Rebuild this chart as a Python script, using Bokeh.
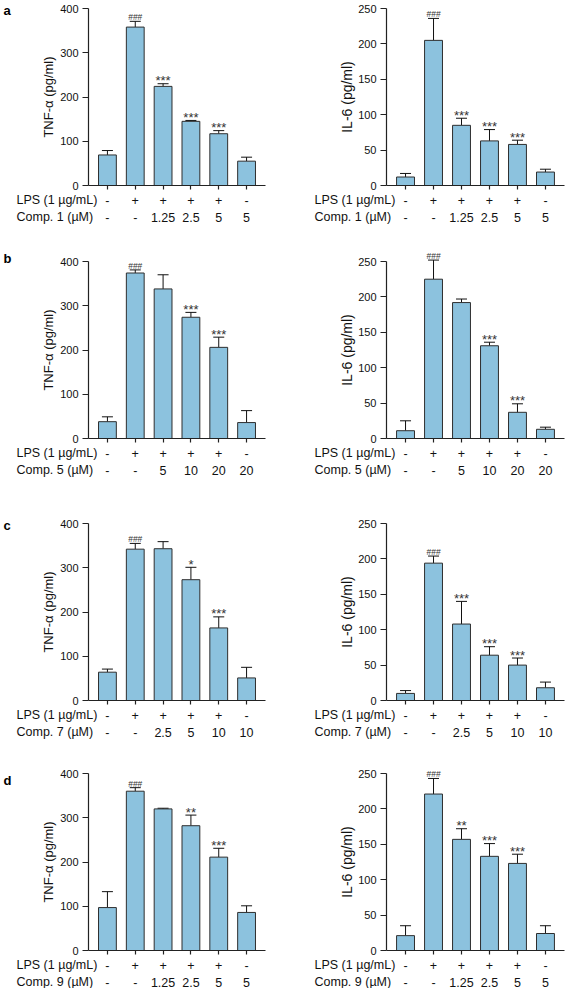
from bokeh.plotting import figure
from bokeh.models import Range1d, FixedTicker, ColumnDataSource, Whisker, TeeHead
from bokeh.layouts import column, row
from bokeh.embed import file_html
from bokeh.resources import INLINE
from bokeh.core.properties import value

# ---------------- data ----------------
groups = [0, 1, 2, 3, 4, 5]
lps = ["-", "+", "+", "+", "+", "-"]

comp_a_name = "Comp. 1 (µM)"
comp_a = ["-", "-", "1.25", "2.5", "5", "5"]
tnf_a = [69, 358, 224, 145, 117, 55]
tnf_a_sd = [10, 13, 6, 2, 7, 9]
tnf_a_sig = ["", "###", "***", "***", "***", ""]
il6_a = [12, 205, 85, 63, 58, 19]
il6_a_sd = [5, 31, 10, 16, 6, 4]
il6_a_sig = ["", "###", "***", "***", "***", ""]

comp_b_name = "Comp. 5 (µM)"
comp_b = ["-", "-", "5", "10", "20", "20"]
tnf_b = [38, 374, 338, 274, 206, 36]
tnf_b_sd = [11, 7, 32, 11, 23, 27]
tnf_b_sig = ["", "###", "", "***", "***", ""]
il6_b = [11, 225, 192, 131, 37, 13]
il6_b_sd = [14, 27, 5, 5, 12, 3]
il6_b_sig = ["", "###", "", "***", "***", ""]

comp_c_name = "Comp. 7 (µM)"
comp_c = ["-", "-", "2.5", "5", "10", "10"]
tnf_c = [64, 342, 343, 273, 164, 51]
tnf_c_sd = [7, 13, 16, 28, 25, 24]
tnf_c_sig = ["", "###", "", "*", "***", ""]
il6_c = [10, 194, 108, 64, 50, 18]
il6_c_sd = [4, 10, 32, 12, 10, 8]
il6_c_sig = ["", "###", "***", "***", "***", ""]

comp_d_name = "Comp. 9 (µM)"
comp_d = ["-", "-", "1.25", "2.5", "5", "5"]
tnf_d = [97, 360, 320, 282, 211, 86]
tnf_d_sd = [36, 8, 1.5, 24, 20, 15]
tnf_d_sig = ["", "###", "", "**", "***", ""]
il6_d = [21, 221, 157, 133, 123, 24]
il6_d_sd = [14, 22, 15, 18, 13, 11]
il6_d_sig = ["", "###", "**", "***", "***", ""]

tnf_ticks = [0, 100, 200, 300, 400]
il6_ticks = [0, 50, 100, 150, 200, 250]
lps_name = "LPS (1 µg/mL)"

# ---------------- style ----------------
FONT = "Liberation Sans"
BAR_FILL = "#8cc2de"
BAR_LINE = "#2e2e2e"
AX = "#222222"
TXT = "#111111"
XMIN, XMAX = -0.68, 5.68
FRAME_H = 177


def panel(left, vals, sds, sig, ticks, ylabel, comp_name, comp_vals,
          mbt, mbb, letter=None, letter_dy=0):
    ymax = ticks[-1]
    if left:
        mbl, fw, mbr = 88, 177, 18
        lab_size = "13px"
        lab_standoff = 1
    else:
        mbl, fw, mbr = 103, 178, 2
        lab_size = "14px"
        lab_standoff = 0
    W = mbl + fw + mbr
    H = mbt + FRAME_H + mbb
    pxu = fw / (XMAX - XMIN)
    pyu = FRAME_H / ymax
    p = figure(width=W, height=H, output_backend="svg", toolbar_location=None,
               x_range=Range1d(XMIN - mbl / pxu, XMAX + mbr / pxu),
               y_range=Range1d(-mbb / pyu, ymax + mbt / pyu),
               min_border=0, min_border_left=0, min_border_right=0,
               min_border_top=0, min_border_bottom=0,
               background_fill_color="white", border_fill_color="white")
    p.outline_line_color = None
    p.xgrid.visible = False
    p.ygrid.visible = False

    top = [v + s for v, s in zip(vals, sds)]
    src = ColumnDataSource(dict(x=groups, v=vals, top=top))
    p.vbar(x="x", top="v", width=0.64, bottom=0, source=src,
           fill_color=BAR_FILL, line_color=BAR_LINE, line_width=1)
    p.add_layout(Whisker(base="x", lower="v", upper="top", source=src,
                         dimension="height", line_color="#111111", line_width=1,
                         lower_head=None,
                         upper_head=TeeHead(size=11, line_color="#111111", line_width=1)))

    st = [(g, t, s) for g, t, s in zip(groups, top, sig) if "*" in s]
    stars = ColumnDataSource(dict(x=[a for a, b, c in st], y=[b for a, b, c in st],
                                  t=[c for a, b, c in st]))
    p.text(x="x", y="y", text="t", source=stars, text_align="center",
           text_baseline="alphabetic", y_offset=-3, text_font=value(FONT),
           text_font_size="13px", text_color="#333333")
    hs = [(g, t, s) for g, t, s in zip(groups, top, sig) if "#" in s]
    hashes = ColumnDataSource(dict(x=[a for a, b, c in hs], y=[b for a, b, c in hs],
                                   t=[c for a, b, c in hs]))
    p.text(x="x", y="y", text="t", source=hashes, text_align="center",
           text_baseline="alphabetic", y_offset=-4, text_font=value(FONT),
           text_font_size="8.5px", text_color="#333333")

    # axes drawn at fixed data locations inside the (full-canvas) frame
    p.xaxis.fixed_location = 0
    p.xaxis.bounds = (XMIN, XMAX)
    p.yaxis.fixed_location = XMIN
    p.yaxis.bounds = (0, ymax)
    p.yaxis.ticker = FixedTicker(ticks=ticks)
    p.yaxis.axis_label = ylabel
    p.yaxis.axis_label_text_font = FONT
    p.yaxis.axis_label_text_font_style = "normal"
    p.yaxis.axis_label_text_font_size = lab_size
    p.yaxis.axis_label_text_color = TXT
    p.yaxis.axis_label_standoff = lab_standoff
    p.yaxis.major_label_text_font = FONT
    p.yaxis.major_label_text_font_size = "11px"
    p.yaxis.major_label_text_color = TXT
    p.yaxis.major_label_standoff = 4
    p.xaxis.ticker = FixedTicker(ticks=groups)
    p.xaxis.major_label_overrides = {g: "" for g in groups}
    p.xaxis.major_label_text_font_size = "1px"
    for ax in (p.xaxis, p.yaxis):
        ax.axis_line_color = AX
        ax.axis_line_width = 1.2
        ax.major_tick_line_color = AX
        ax.major_tick_line_width = 1.2
        ax.major_tick_in = 0
        ax.minor_tick_line_color = None
    p.yaxis.major_tick_out = 6
    p.xaxis.major_tick_out = 4

    # category rows under the axis
    y1 = -14.5 / pyu
    y2 = -31.5 / pyu
    cat = ColumnDataSource(dict(x=groups + groups, y=[y1] * 6 + [y2] * 6,
                                t=lps + comp_vals))
    p.text(x="x", y="y", text="t", source=cat, text_align="center",
           text_baseline="middle", text_font=value(FONT),
           text_font_size="12.5px", text_color=TXT)
    xh = XMIN - 72 / pxu
    hdr = ColumnDataSource(dict(x=[xh, xh], y=[y1, y2], t=[lps_name, comp_name]))
    p.text(x="x", y="y", text="t", source=hdr, text_align="left",
           text_baseline="middle", text_font=value(FONT),
           text_font_size="12.5px", text_color=TXT)
    if letter:
        let = ColumnDataSource(dict(x=[XMIN - 85 / pxu], y=[ymax + letter_dy / pyu], t=[letter]))
        p.text(x="x", y="y", text="t", source=let, text_align="left",
               text_baseline="alphabetic", text_font=value(FONT),
               text_font_style="bold", text_font_size="13px", text_color="#000000")
    return p


rows_spec = [
    (tnf_a, tnf_a_sd, tnf_a_sig, il6_a, il6_a_sd, il6_a_sig, comp_a_name, comp_a, 8, 55, "a", -2),
    (tnf_b, tnf_b_sd, tnf_b_sig, il6_b, il6_b_sd, il6_b_sig, comp_b_name, comp_b, 21, 59, "b", 3),
    (tnf_c, tnf_c_sd, tnf_c_sig, il6_c, il6_c_sd, il6_c_sig, comp_c_name, comp_c, 26, 47, "c", -2),
    (tnf_d, tnf_d_sd, tnf_d_sig, il6_d, il6_d_sd, il6_d_sig, comp_d_name, comp_d, 26, 38, "d", -7),
]

rows = []
for (tv, ts, tg, iv, isd, ig, cn, cv, mbt, mbb, letr, ldy) in rows_spec:
    f1 = panel(True, tv, ts, tg, tnf_ticks, "TNF-α (pg/ml)", cn, cv, mbt, mbb, letr, ldy)
    f2 = panel(False, iv, isd, ig, il6_ticks, "IL-6 (pg/ml)", cn, cv, mbt, mbb)
    rows.append(row(f1, f2))

layout = column(*rows)
open("out.html", "w").write(file_html(layout, INLINE))
